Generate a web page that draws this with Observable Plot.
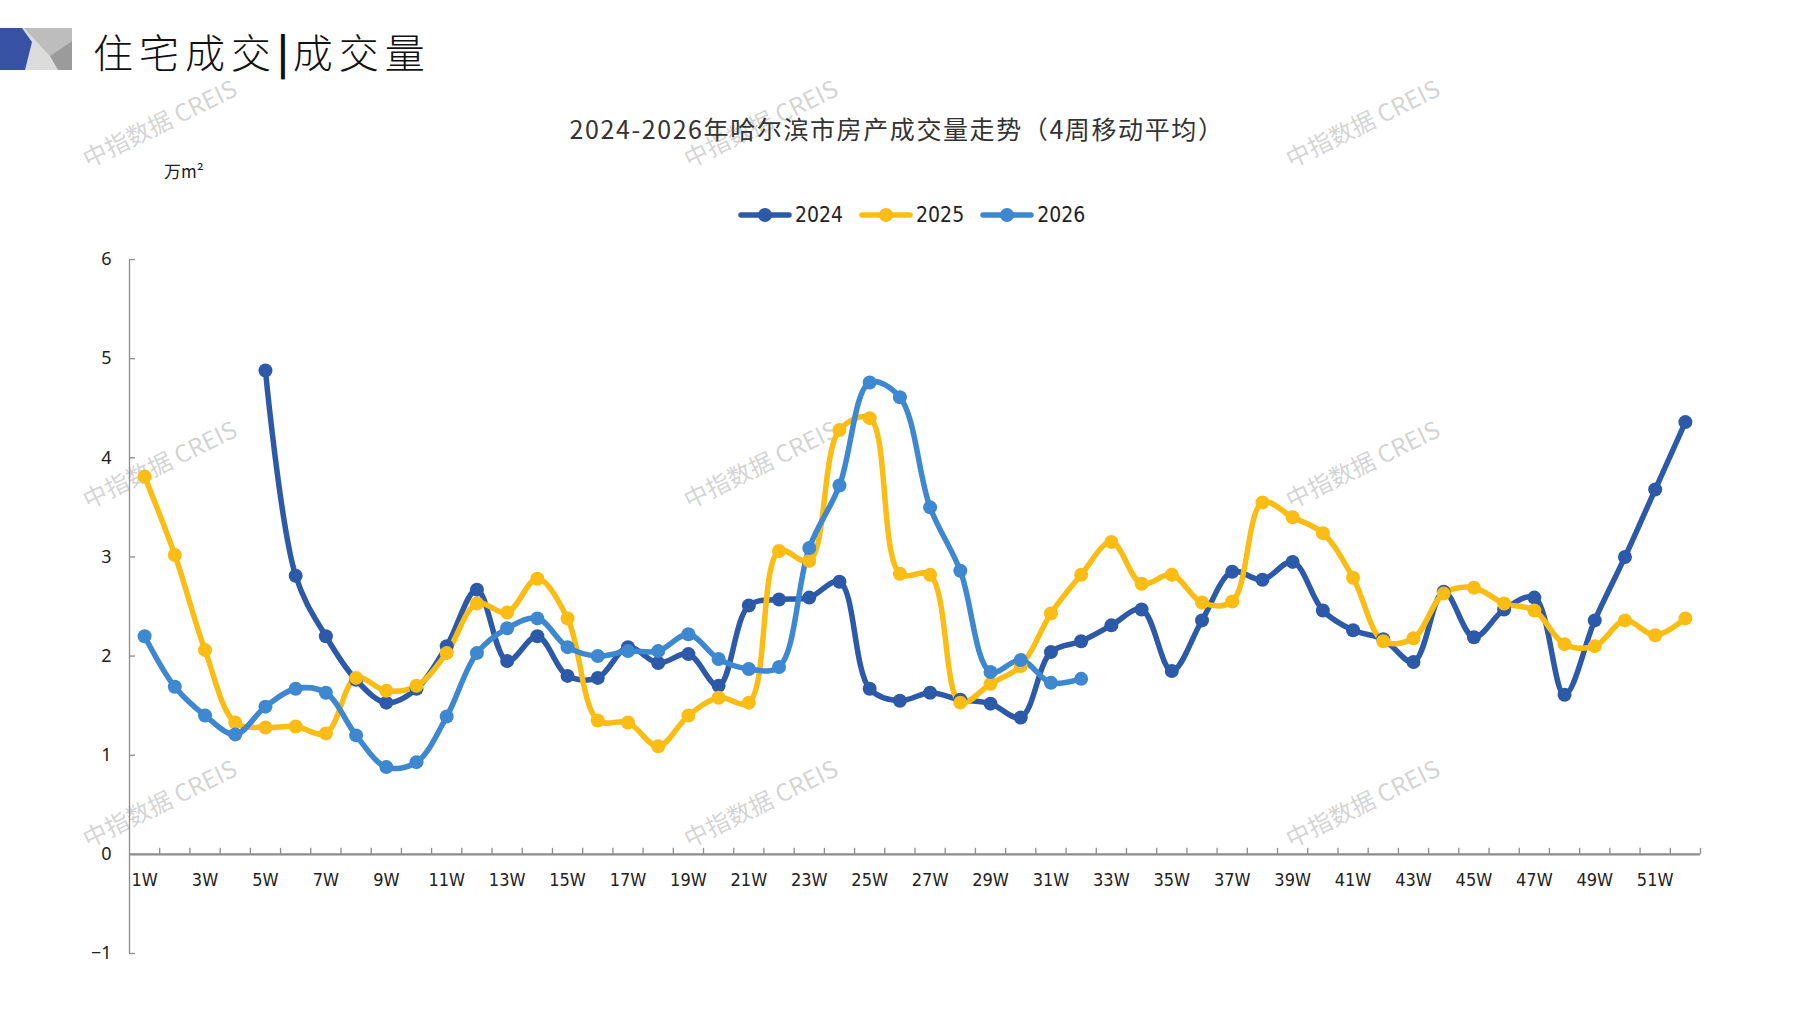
<!DOCTYPE html>
<html>
<head>
<meta charset="utf-8">
<script src="https://cdn.jsdelivr.net/npm/d3@7"></script>
<script src="https://cdn.jsdelivr.net/npm/@observablehq/plot@0.6"></script>
<style>
  html, body { margin: 0; padding: 0; background: #fff; }
  #page { position: relative; width: 1797px; height: 1010px; overflow: hidden; font-family: "Noto Sans CJK SC", "Noto Sans", sans-serif; }
  .wm { position: absolute; font-size: 24px; color: rgba(150,150,150,0.42); transform: translate(-50%,-50%) rotate(-26deg); white-space: nowrap; font-family: "Noto Sans CJK SC", "Liberation Sans", sans-serif; z-index: 0; }
  #chart { position: absolute; left: 0; top: 0; z-index: 1; }
  #head { position: absolute; left: 93px; top: 22px; font-size: 40px; letter-spacing: 6px; color: #111; font-weight: 300; z-index: 2; white-space: nowrap; }
  #title { position: absolute; left: 897px; top: 110px; transform: translateX(-50%); font-size: 25px; color: #333; white-space: nowrap; letter-spacing: 1.6px; z-index: 2; }
  #unit { position: absolute; left: 164px; top: 158px; font-size: 17px; color: #222; z-index: 2; }
  #legend { position: absolute; left: 738px; top: 203px; display: flex; align-items: center; z-index: 2; font-family: "Liberation Sans Narrow", "DejaVu Sans Condensed", sans-serif; font-stretch: condensed; font-size: 21px; color: #222; }
  #legend .item { display: flex; align-items: center; margin-right: 16px; }
  #legend svg { margin-right: 3px; }
</style>
</head>
<body>
<div id="page">
  <svg id="logo" width="80" height="80" style="position:absolute;left:0;top:0;z-index:2">
    <rect x="20" y="28" width="52" height="42" fill="#dcdcdc"/>
    <polygon points="24,28 72,28 72,41 50,56" fill="#bdbdbd"/>
    <polygon points="72,41 72,70 58,70 50,56" fill="#9b9b9b"/>
    <polygon points="0,28 22,28 32,42 25,70 0,70" fill="#3953a4"/>
  </svg>
  <div id="head">住宅成交<span style="font-weight:700;letter-spacing:4px">|</span>成交量</div>
  <div id="title">2024-2026年哈尔滨市房产成交量走势（4周移动平均）</div>
  <div id="unit">万m²</div>
  <div id="legend"></div>
</div>
<script>
// ---- data ----
const years = ["2024", "2025", "2026"];
const colors = ["#2c5aa8", "#fbbd14", "#3d88d0"];
const weeks = Array.from({length: 52}, (_, i) => i + 1);
const weekLabels = weeks.filter(w => w % 2 === 1).map(w => w + "W");
const yTicks = [-1, 0, 1, 2, 3, 4, 5, 6];

const v2024 = [null, null, null, null, 4.88, 2.81, 2.20, 1.76, 1.53, 1.67,
  2.10, 2.67, 1.95, 2.20, 1.80, 1.78, 2.09, 1.93, 2.02, 1.70,
  2.51, 2.57, 2.59, 2.75, 1.67, 1.55, 1.63, 1.56, 1.52, 1.38,
  2.04, 2.15, 2.31, 2.47, 1.85, 2.36, 2.85, 2.77, 2.95, 2.46,
  2.26, 2.17, 1.94, 2.65, 2.19, 2.47, 2.59, 1.61, 2.36, 3.00,
  3.68, 4.36];
const v2025 = [3.81, 3.02, 2.06, 1.33, 1.28, 1.29, 1.22, 1.78, 1.65, 1.70,
  2.03, 2.53, 2.44, 2.78, 2.38, 1.35, 1.33, 1.09, 1.40, 1.58,
  1.53, 3.06, 2.96, 4.28, 4.40, 2.83, 2.82, 1.53, 1.72, 1.90,
  2.43, 2.82, 3.15, 2.73, 2.82, 2.54, 2.55, 3.55, 3.40, 3.24,
  2.79, 2.15, 2.18, 2.63, 2.69, 2.53, 2.46, 2.12, 2.10, 2.36,
  2.21, 2.38];
const v2026 = [2.20, 1.69, 1.40, 1.21, 1.49, 1.67, 1.63, 1.20, 0.88, 0.93,
  1.39, 2.03, 2.28, 2.38, 2.09, 2.00, 2.05, 2.05, 2.22, 1.97,
  1.87, 1.89, 3.09, 3.72, 4.76, 4.61, 3.50, 2.86, 1.84, 1.96,
  1.73, 1.77];
const seriesValues = [v2024, v2025, v2026];

// ---- build table ----
const rows = [];
years.forEach((yr, k) => {
  seriesValues[k].forEach((v, i) => {
    if (v != null) rows.push({year: yr, week: weeks[i], value: v});
  });
});
const oddWeeks = weeks.filter(w => w % 2 === 1);
const boundaries = weeks.map(w => w + 0.5);

const axisGray = "#8c8c8c";
const chart = Plot.plot({
  width: 1797,
  height: 1010,
  marginTop: 259,
  marginBottom: 57,
  marginLeft: 129,
  marginRight: 97,
  x: {domain: [0.5, 52.5], axis: null},
  y: {domain: [-1, 6], axis: null},
  color: {domain: years, range: colors},
  style: {background: "transparent", fontFamily: "'Noto Sans', 'Liberation Sans', sans-serif", overflow: "visible"},
  marks: [
    Plot.ruleX([0.5], {y1: -1, y2: 6, stroke: axisGray, strokeWidth: 1.3}),
    Plot.ruleY(yTicks, {x1: 0.5, x2: 0.5, insetRight: -6, stroke: axisGray, strokeWidth: 1.3}),
    Plot.axisY({ticks: yTicks, tickSize: 0, tickPadding: 18, fontSize: 18, label: null, color: "#222", tickFormat: d => d < 0 ? "\u2212" + Math.abs(d) : String(d)}),
    Plot.ruleY([0], {stroke: axisGray, strokeWidth: 2.2}),
    Plot.ruleX(boundaries, {y1: 0, y2: 0, insetTop: -6, stroke: axisGray, strokeWidth: 1.3}),
    Plot.text(oddWeeks, {x: d => d, y: 0, text: (d, i) => weekLabels[i], dy: 26, fontSize: 18, fill: "#222", fontFamily: "'Liberation Sans Narrow', 'DejaVu Sans Condensed', sans-serif"}),
    Plot.line(rows, {x: "week", y: "value", z: "year", stroke: "year", strokeWidth: 5.5, curve: "catmull-rom", strokeLinecap: "round", strokeLinejoin: "round"}),
    Plot.dot(rows, {x: "week", y: "value", fill: "year", r: 7})
  ]
});
chart.id = "chart";
document.getElementById("page").appendChild(chart);

// ---- watermarks ----
const wmX = [159, 760, 1362];
const wmY = [122, 463, 802];
const page = document.getElementById("page");
wmY.forEach(y => wmX.forEach(x => {
  const d = document.createElement("div");
  d.className = "wm";
  d.style.left = x + "px";
  d.style.top = y + "px";
  d.textContent = "中指数据 CREIS";
  page.appendChild(d);
}));

// ---- legend ----
const legend = d3.select("#legend");
years.forEach((yr, k) => {
  const item = legend.append("div").attr("class", "item");
  const s = item.append("svg").attr("width", 54).attr("height", 16);
  s.append("line").attr("x1", 3).attr("x2", 51).attr("y1", 8).attr("y2", 8)
    .attr("stroke", colors[k]).attr("stroke-width", 5.5).attr("stroke-linecap", "round");
  s.append("circle").attr("cx", 27).attr("cy", 8).attr("r", 7).attr("fill", colors[k]);
  item.append("span").text(yr);
});
</script>
</body>
</html>
